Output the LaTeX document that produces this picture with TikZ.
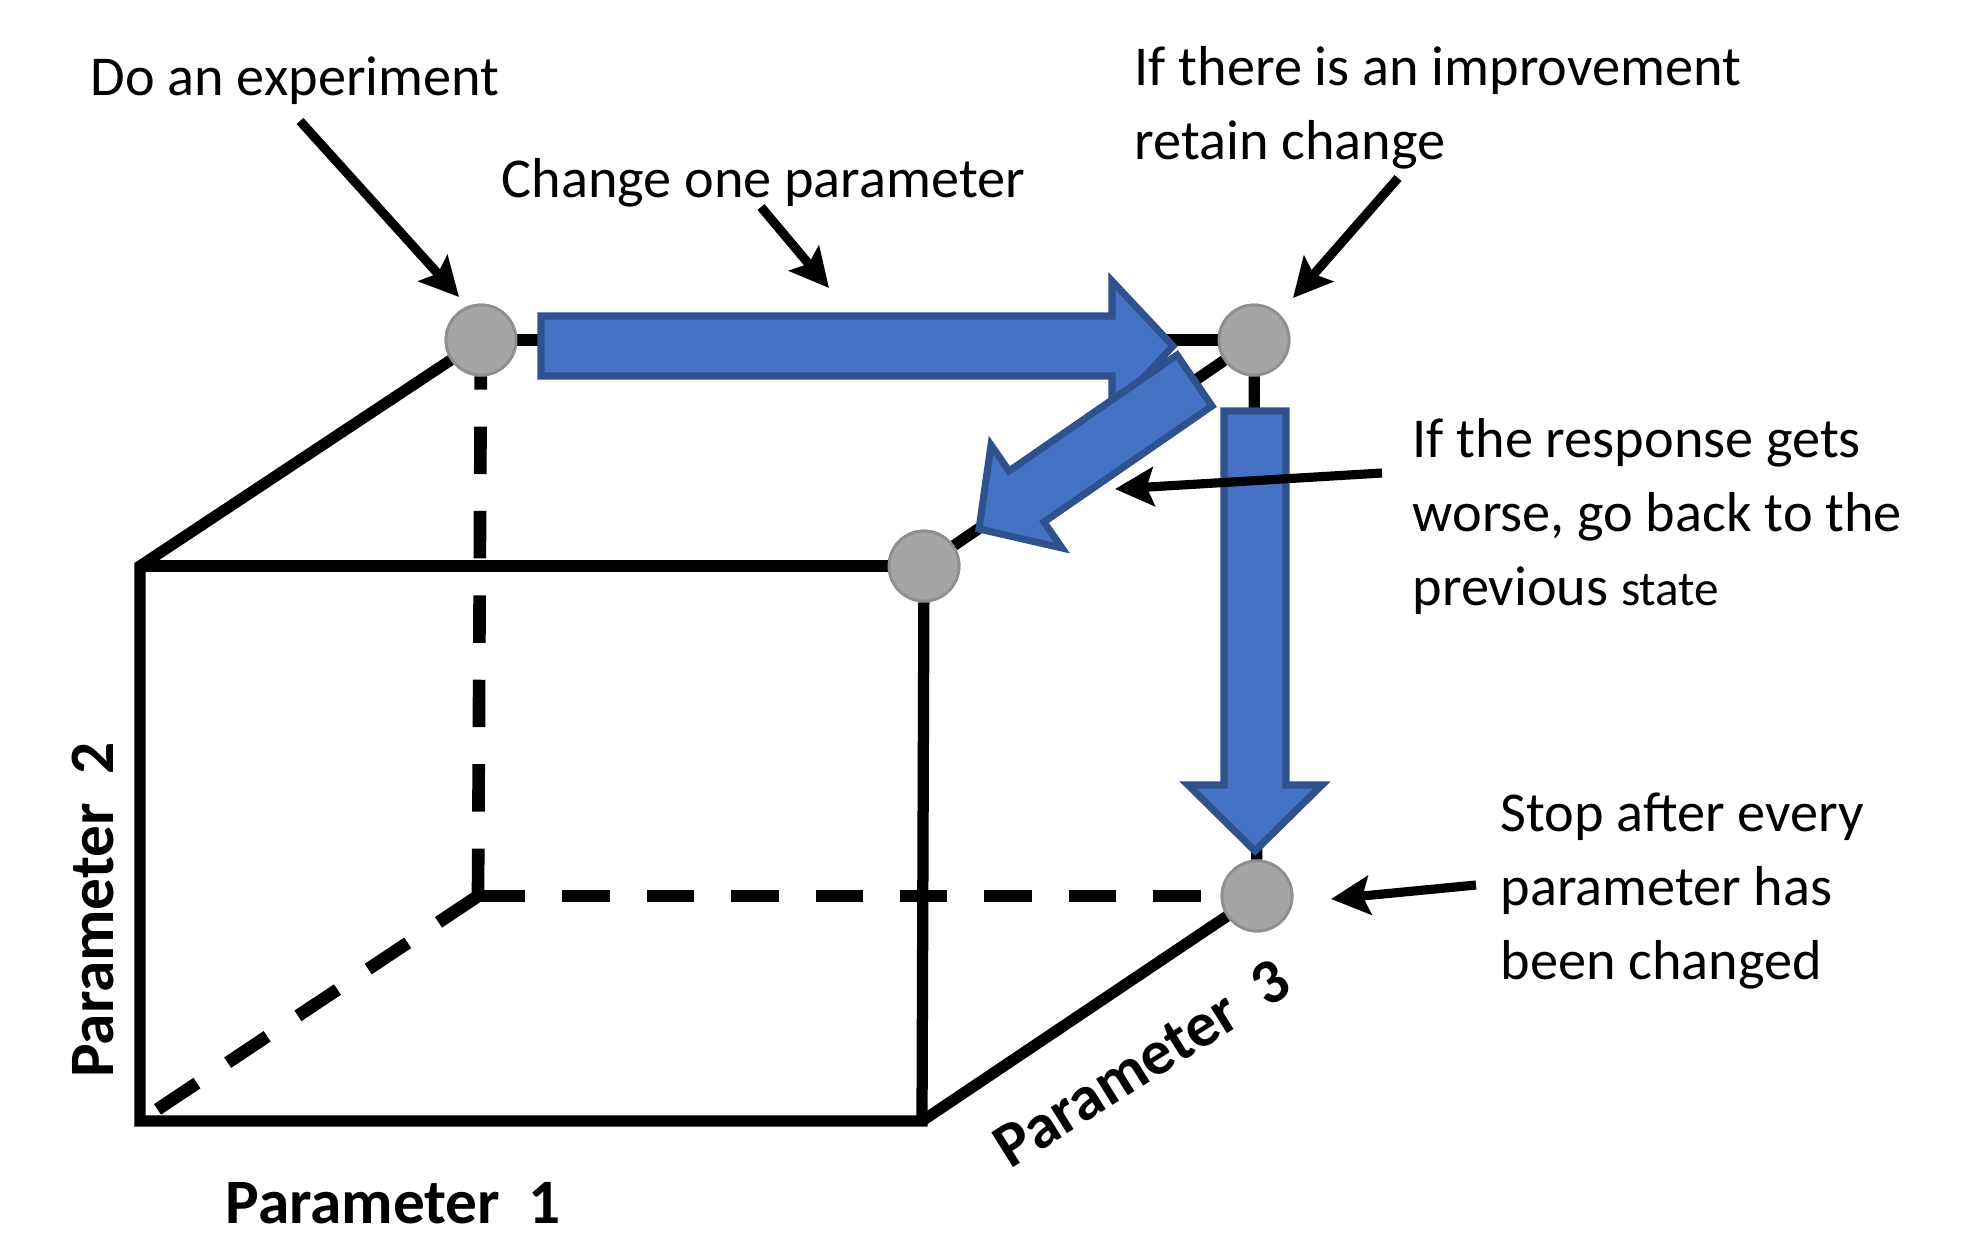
\documentclass[tikz,border=0pt]{standalone}
\usepackage{fontspec}
\setmainfont{Carlito}
\usetikzlibrary{arrows.meta}
\definecolor{bfill}{HTML}{4472C4}
\definecolor{bline}{HTML}{2F528F}
\definecolor{dotfill}{HTML}{A5A5A5}
\definecolor{dotline}{HTML}{8F8F8F}
\begin{document}
\begin{tikzpicture}[x=0.01cm,y=-0.01cm,
  edge/.style={line width=3.2pt},
  hidden/.style={line width=3.6pt, dash pattern=on 13.5pt off 10.5pt},
  dot/.style={circle, minimum size=0.7cm, inner sep=0pt, fill=dotfill, draw=dotline, line width=0.8pt},
  blockarrow/.style={fill=bfill, draw=bline, line width=2pt, line join=miter},
  note/.style={line width=2.6pt, -{Stealth[length=11pt,width=11pt,inset=2pt]}},
  lbl/.style={font=\fontsize{16}{21}\selectfont, anchor=base west, inner sep=0pt},
  axis/.style={font=\bfseries\fontsize{18}{22}\selectfont, inner sep=0pt}
]
\useasboundingbox (0,0) rectangle (1963,1236);
\fill[white] (0,0) rectangle (1963,1236);

% cube corners
\coordinate (FTL) at (140,566);
\coordinate (FBL) at (140,1121);
\coordinate (FBR) at (922,1121);
\coordinate (BBL) at (478,896);
\node[dot] (A) at (481,340) {};
\node[dot] (B) at (1254,340) {};
\node[dot] (C) at (924,566) {};
\node[dot] (D) at (1257,896) {};

% hidden edges
\draw[hidden] (BBL) -- (A);
\draw[hidden] (BBL) -- (D);
\draw[hidden] (BBL) -- (FBL);

% visible edges
\draw[edge] (C) -- (FBR) -- (FBL) -- (FTL) -- (A);
\draw[edge] (FTL) -- (C);
\draw[edge] (A) -- (B);
\draw[edge] (B) -- (C);
\draw[edge] (B) -- (D);
\draw[edge] (FBR) -- (D);

% dots on top of edges
\node[dot] at (A) {};
\node[dot] at (B) {};
\node[dot] at (C) {};
\node[dot] at (D) {};

% block arrows
\draw[blockarrow] (541,316) -- (1112,316) -- (1112,281) -- (1173,346) -- (1112,411) -- (1112,376) -- (541,376) -- cycle;
\draw[blockarrow] (1177,355) -- (1212,406) -- (1044,522) -- (1062,548) -- (979,529) -- (991,445) -- (1009,471) -- cycle;
\draw[blockarrow] (1224,411) -- (1286,411) -- (1286,785) -- (1322,785) -- (1255,851) -- (1188,785) -- (1224,785) -- cycle;

% annotation arrows
\coordinate (n1s) at (300,121); \coordinate (n1e) at (459,297);
\coordinate (n2s) at (761,207); \coordinate (n2e) at (829,288);
\coordinate (n3s) at (1398,178); \coordinate (n3e) at (1293,298);
\coordinate (n4s) at (1382,473); \coordinate (n4e) at (1115,489);
\coordinate (n5s) at (1476,885); \coordinate (n5e) at (1331,899);
\draw[note] (n1s) -- (n1e);
\draw[note] (n2s) -- (n2e);
\draw[note] (n3s) -- (n3e);
\draw[note] (n4s) -- (n4e);
\draw[note] (n5s) -- (n5e);

% labels
\node[lbl] (t1) at (90,95) {Do an experiment};
\node[lbl] (t2) at (501,197) {Change one parameter};
\node[lbl] (t3a) at (1134,85) {If there is an improvement};
\node[lbl] (t3b) at (1134,159) {retain change};
\node[lbl] (t4a) at (1412,457) {If the response gets};
\node[lbl] (t4b) at (1412,531) {worse, go back to the};
\node[lbl] (t4c) at (1412,605) {previous {\fontsize{14}{18}\selectfont state}};
\node[lbl] (t5a) at (1500,831) {Stop after every};
\node[lbl] (t5b) at (1500,905) {parameter has};
\node[lbl] (t5c) at (1500,979) {been changed};

\node[axis, anchor=base west] (p1) at (225,1223) {Parameter\ \ 1};
\node[axis, rotate=90] (p2) at (93,910) {Parameter\ \ 2};
\node[axis, rotate=32] (p3) at (1142,1063) {Parameter\ \ 3};
\end{tikzpicture}
\end{document}
